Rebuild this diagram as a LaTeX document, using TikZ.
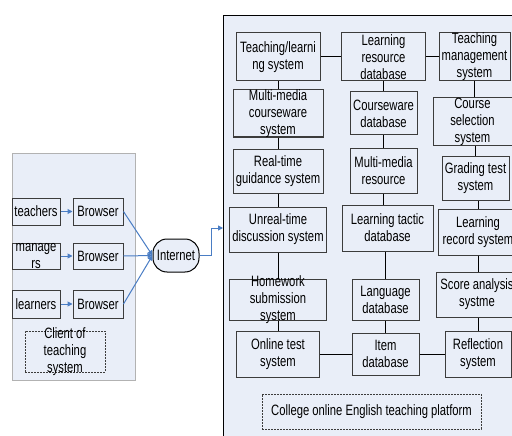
\documentclass[tikz,border=0pt]{standalone}
\usepackage{fontspec}
\setmainfont{Liberation Sans}[FakeStretch=0.75]
\usetikzlibrary{arrows.meta}
\definecolor{paneblue}{HTML}{E9EEF8}
\definecolor{linkblue}{HTML}{4A7DC4}
\definecolor{edgegray}{HTML}{3C3C3C}

\begin{document}
\begin{tikzpicture}[x=1pt,y=1pt,
  font=\fontsize{15}{17}\selectfont,
  blk/.style={draw=edgegray, fill=paneblue, inner sep=0pt, line width=1pt},
  txt/.style={align=center, inner sep=0pt, text=black},
  dashbox/.style={draw=edgegray, dash pattern=on 2pt off 1pt, inner sep=0pt, line width=0.8pt, align=center},
  link/.style={draw=black, line width=1pt},
  flow/.style={draw=linkblue, line width=1pt, -{Triangle[width=5pt,length=5pt]}}]
  \useasboundingbox (0,0) rectangle (512,-436);
  \clip (0,0) rectangle (512,-436);

  % client side
  \node[draw=gray!60, fill=paneblue, line width=1pt, inner sep=0pt, anchor=north west,
        minimum width=123, minimum height=227] (client) at (12,-153) {};
  \node[blk, minimum width=48, minimum height=27, label={[txt]center:teachers}] (teach) at (36,-211.5) {};
  \node[blk, minimum width=48, minimum height=26, label={[txt]center:manage\\rs}] (manage) at (36,-256) {};
  \node[blk, minimum width=48, minimum height=28, label={[txt]center:learners}] (learn) at (36,-304) {};
  \node[blk, minimum width=50, minimum height=27, label={[txt]center:Browser}] (brA) at (98,-211.5) {};
  \node[blk, minimum width=50, minimum height=26, label={[txt]center:Browser}] (brB) at (98,-256) {};
  \node[blk, minimum width=50, minimum height=28, label={[txt]center:Browser}] (brC) at (98,-304) {};
  \node[dashbox, minimum width=80, minimum height=41, label={[txt]center:Client of\\teaching\\system}] (cts) at (65,-351.5) {};
  \node[draw=black, fill=paneblue, line width=1pt, rounded corners=14, inner sep=0pt,
        minimum width=46, minimum height=33] (inet) at (176,-255.5) {Internet};

  % platform side
  \node[draw=black, fill=paneblue, line width=1pt, inner sep=0pt, anchor=north west,
        minimum width=320, minimum height=440] (platform) at (223,-15) {};
  \coordinate (entry) at (223,-228);

  \node[blk, minimum width=84, minimum height=48, label={[txt]center:Teaching/learni\\ng system}] (tls) at (278,-57) {};
  \node[blk, minimum width=90, minimum height=47, label={[txt]center:Multi-media\\courseware\\system}] (mcs) at (278,-113.5) {};
  \node[blk, minimum width=90, minimum height=44, label={[txt]center:Real-time\\guidance system}] (rtg) at (278,-171) {};
  \node[blk, minimum width=97, minimum height=45, label={[txt]center:Unreal-time\\discussion system}] (urt) at (278,-229.5) {};
  \node[blk, minimum width=97, minimum height=41, label={[txt]center:Homework\\submission\\system}] (hws) at (278,-299.5) {};
  \node[blk, minimum width=83, minimum height=46, label={[txt]center:Online test\\system}] (ots) at (278,-354) {};

  \node[blk, minimum width=84, minimum height=48, label={[txt]center:Learning\\resource\\database}] (lrd) at (383.5,-57) {};
  \node[blk, minimum width=67, minimum height=43, label={[txt]center:Courseware\\database}] (cwd) at (383.5,-113.5) {};
  \node[blk, minimum width=67, minimum height=45, label={[txt]center:Multi-media\\resource}] (mmr) at (383.5,-170.5) {};
  \node[blk, minimum width=91, minimum height=46, label={[txt]center:Learning tactic\\database}] (ltd) at (387.5,-228) {};
  \node[blk, minimum width=67, minimum height=41, label={[txt]center:Language\\database}] (lgd) at (385.5,-299.5) {};
  \node[blk, minimum width=67, minimum height=42, label={[txt]center:Item\\database}] (itd) at (385.5,-354) {};

  \node[blk, minimum width=71, minimum height=48, label={[txt]center:Teaching\\management\\system}] (tms) at (474.5,-57) {};
  \node[blk, minimum width=79, minimum height=47, label={[txt]center:Course\\selection\\system}] (css) at (472.5,-121.5) {};
  \node[blk, minimum width=67, minimum height=44, label={[txt]center:Grading test\\system}] (gts) at (475.5,-178) {};
  \node[blk, minimum width=80, minimum height=46, label={[txt]center:Learning\\record system}] (lrs) at (478,-232) {};
  \node[blk, minimum width=82, minimum height=45, label={[txt]center:Score analysis\\systme}] (sas) at (477,-294.5) {};
  \node[blk, minimum width=66, minimum height=46, label={[txt]center:Reflection\\system}] (rfs) at (478,-354) {};

  \node[dashbox, minimum width=219, minimum height=35] (cop) at (371.5,-411.5) {College online English teaching platform};

  % links inside the platform
  \draw[link] (tls) -- (lrd);
  \draw[link] (lrd) -- (tms);
  \draw[link] (ots) -- (itd);
  \draw[link] (itd) -- (rfs);
  \draw[link] (tls) -- (mcs);
  \draw[link] (mcs) -- (rtg);
  \draw[link] (rtg) -- (urt);
  \draw[link] (urt) -- (hws);
  \draw[link] (hws) -- (ots);
  \draw[link] (lrd.south) -- (lrd.south |- cwd.north);
  \draw[link] (cwd) -- (mmr);
  \draw[link] (mmr.south) -- (mmr.south |- ltd.north);
  \draw[link] (lgd.north) -- (lgd.north |- ltd.south);
  \draw[link] (lgd) -- (itd);
  \draw[link] (tms.south) -- (tms.south |- css.north);
  \draw[link] (gts.north) -- (gts.north |- css.south);
  \draw[link] (lrs.north) -- (lrs.north |- gts.south);
  \draw[link] (lrs.south) -- (lrs.south |- sas.north);
  \draw[link] (rfs.north) -- (rfs.north |- sas.south);

  % client flows
  \draw[flow] (teach) -- (brA);
  \draw[flow] (manage) -- (brB);
  \draw[flow] (learn) -- (brC);
  \draw[flow] (brA.east) -- (inet.west);
  \draw[flow] (brB.east) -- (inet.west);
  \draw[flow] (brC.east) -- (inet.west);
  \draw[flow] (inet.east) -- ++(12,0) |- (entry);
\end{tikzpicture}
\end{document}
